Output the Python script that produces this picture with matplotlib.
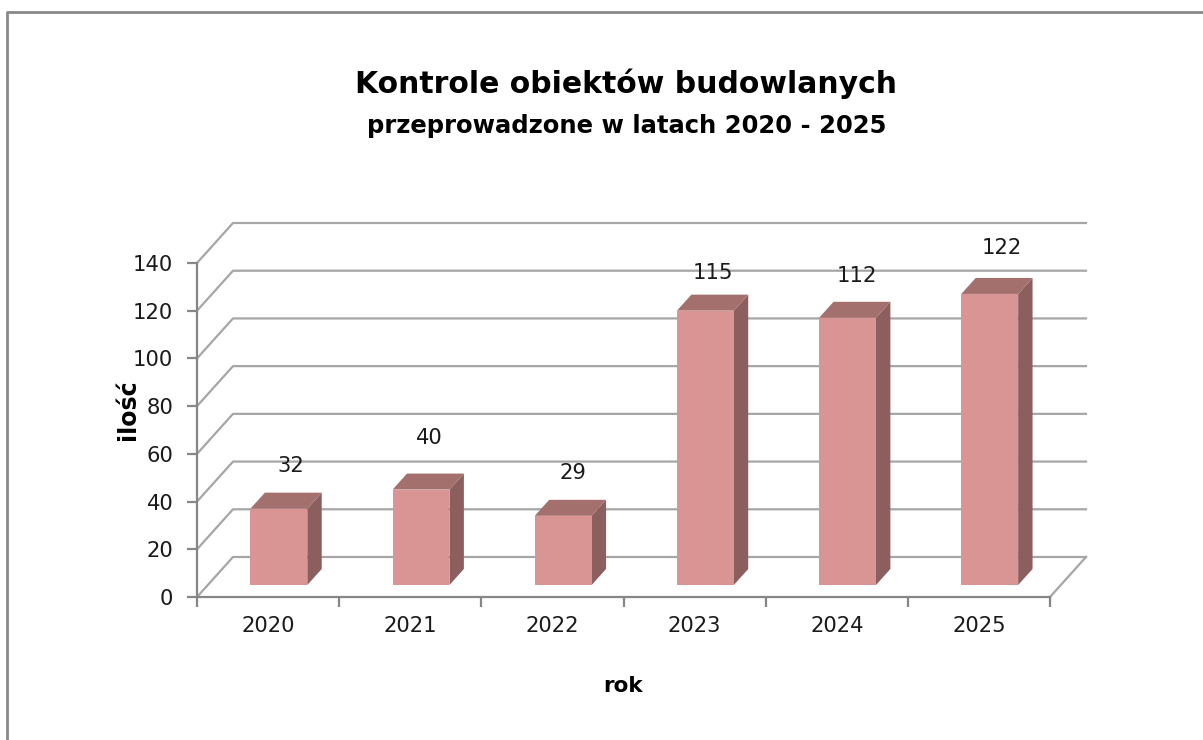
import matplotlib
matplotlib.use('Agg')
import matplotlib.pyplot as plt
from matplotlib.patches import Polygon

years = ['2020', '2021', '2022', '2023', '2024', '2025']
counts = [32, 40, 29, 115, 112, 122]
yticks = [0, 20, 40, 60, 80, 100, 120, 140]

W, H = 1203, 740
fig = plt.figure(figsize=(W / 100, H / 100), dpi=100)

# front plane of the fake 3d box, pixels from the reference
left, right, bottom, top = 197, 1050, 597, 263
ax = fig.add_axes([left / W, 1 - bottom / H, (right - left) / W, (bottom - top) / H])
ax.set_xlim(0, 6)
ax.set_ylim(0, 140)
ax.patch.set_visible(False)

# depth of the box in data units
dx = 36 / ((right - left) / 6)
dy = 40 / ((bottom - top) / 140)
grid_col = '#a6a6a6'
axis_col = '#868686'
text_col = '#1a1a1a'


def proj(x, y, d):
    return x + d * dx, y + d * dy


# walls
for t in yticks:
    p0 = proj(0, t, 0)
    p1 = proj(0, t, 1)
    p2 = proj(6, t, 1)
    ax.plot([p0[0], p1[0], p2[0]], [p0[1], p1[1], p2[1]], color=grid_col, lw=1.6, clip_on=False, zorder=1)
p0 = proj(6, 0, 0)
p1 = proj(6, 0, 1)
ax.plot([p0[0], p1[0]], [p0[1], p1[1]], color=grid_col, lw=1.6, clip_on=False, zorder=1)

# bars
bar_w = 0.4
d0, d1 = 0.3, 0.7
# labels were moved by hand in the original chart (px right, px up)
label_nudge = [(-13, -2), (-17, 7), (-15, -2), (-18, -7), (-16, -3), (-13, 1)]
for i, v in enumerate(counts):
    x0 = i + 0.5 - bar_w / 2
    x1 = x0 + bar_w
    top_face = [proj(x0, v, d0), proj(x1, v, d0), proj(x1, v, d1), proj(x0, v, d1)]
    side_face = [proj(x1, 0, d0), proj(x1, v, d0), proj(x1, v, d1), proj(x1, 0, d1)]
    front_face = [proj(x0, 0, d0), proj(x1, 0, d0), proj(x1, v, d0), proj(x0, v, d0)]
    ax.add_patch(Polygon(side_face, fc='#8b5f5e', ec='none', clip_on=False, zorder=3))
    ax.add_patch(Polygon(top_face, fc='#a4706e', ec='none', clip_on=False, zorder=3))
    ax.add_patch(Polygon(front_face, fc='#d99594', ec='none', clip_on=False, zorder=4))
    nx, ny = label_nudge[i]
    ax.annotate(str(v), xy=proj(i + 0.5, v, 1), xytext=(nx * 0.72, (ny + 17) * 0.72),
                textcoords='offset points', ha='center', va='center', fontsize=15.2,
                color=text_col, zorder=5, annotation_clip=False)

for s in ['top', 'right']:
    ax.spines[s].set_visible(False)
for s in ['left', 'bottom']:
    ax.spines[s].set_color(axis_col)
    ax.spines[s].set_linewidth(1.6)

ax.set_xticks(range(7))
ax.set_xticklabels([])
ax.set_xticks([i + 0.5 for i in range(6)], labels=years, minor=True)
ax.tick_params(axis='x', which='major', length=7, width=1.6, color=axis_col)
ax.tick_params(axis='x', which='minor', length=0, labelsize=15.2, pad=14, labelcolor=text_col)
ax.set_yticks(yticks)
ax.tick_params(axis='y', length=7, width=1.6, color=axis_col, labelsize=15.2, pad=10, labelcolor=text_col)

fig.text(623 / W, 1 - 686 / H, 'rok', ha='center', va='center', fontsize=15.5, fontweight='bold')
fig.text(128 / W, 1 - 410 / H, 'ilość', rotation=90, ha='center', va='center', fontsize=17, fontweight='bold')

fig.text(626 / W, 1 - 84 / H, 'Kontrole obiektów budowlanych', ha='center', va='center',
         fontsize=21.5, fontweight='bold')
fig.text(627 / W, 1 - 126 / H, 'przeprowadzone w latach 2020 - 2025', ha='center', va='center',
         fontsize=17.5, fontweight='bold')

# outer chart frame, open on the right and at the bottom
frame = fig.add_axes([0, 0, 1, 1], zorder=-1)
frame.set_xlim(0, W)
frame.set_ylim(H, 0)
frame.axis('off')
frame.plot([7, 7, W], [H, 12, 12], color='#888888', lw=2)

fig.savefig('out.png', dpi=100)
